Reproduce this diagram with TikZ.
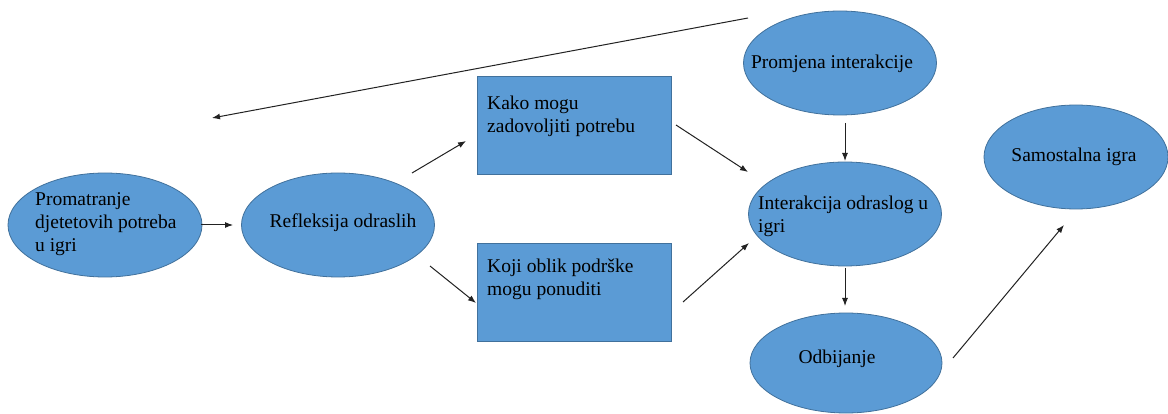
\documentclass[tikz,border=0pt]{standalone}
\usepackage{fontspec}
\setmainfont{Liberation Serif}
\usetikzlibrary{arrows.meta,shapes.geometric}
\definecolor{fillblue}{HTML}{5B9BD5}
\definecolor{edgeblue}{HTML}{41719C}
\definecolor{linegray}{HTML}{222222}
\begin{document}
\begin{tikzpicture}[x=1pt,y=-1pt,
  oval/.style={ellipse,draw=edgeblue,fill=fillblue,line width=0.8pt,inner sep=0pt,
    minimum width=#1,minimum height=104pt},
  oval/.default=194pt,
  boxnode/.style={rectangle,draw=edgeblue,fill=fillblue,line width=0.8pt,inner sep=0pt,
    minimum width=194pt,minimum height=98pt},
  txt/.style={inner sep=0pt,font=\fontsize{19.5}{23}\selectfont,align=left},
  conn/.style={draw=linegray,line width=1pt,-{Latex[length=8pt,width=6pt]}}]
\useasboundingbox (0,0) rectangle (1168,414);
\fill[white] (0,0) rectangle (1168,414);
% shapes
\node[oval] (e1) at (105,225) {};
\node[oval=193pt] (e2) at (338,225) {};
\node[boxnode] (b1) at (574,125) {};
\node[boxnode] (b2) at (574,292) {};
\node[oval=193pt] (e3) at (840,63) {};
\node[oval=193pt] (e4) at (845,214) {};
\node[oval=192pt,minimum height=100pt] (e5) at (846,363) {};
\node[oval=184pt,minimum height=104pt] (e6) at (1076,157) {};
% texts
\node[txt,anchor=west] (t1) at (35,224) {Promatranje\\djetetovih potreba\\u igri};
\node[txt] (t2) at (343,223) {Refleksija odraslih};
\node[txt,anchor=west] (t3) at (487,116) {Kako mogu\\zadovoljiti potrebu};
\node[txt,anchor=west] (t4) at (487,279) {Koji oblik podrške\\mogu ponuditi};
\node[txt] (t5) at (832,64) {Promjena interakcije};
\node[txt,anchor=west] (t6) at (758,216) {Interakcija odraslog u\\igri};
\node[txt] (t7) at (837,359) {Odbijanje};
\node[txt] (t8) at (1074,157) {Samostalna igra};
% connector end points
\coordinate (a1s) at (201,225); \coordinate (a1e) at (233,225);
\coordinate (a2s) at (412,173); \coordinate (a2e) at (466,141);
\coordinate (a3s) at (430,266); \coordinate (a3e) at (476,303);
\coordinate (a4s) at (676,125); \coordinate (a4e) at (748,172);
\coordinate (a5s) at (683,302); \coordinate (a5e) at (749,243);
\coordinate (a6s) at (845,123); \coordinate (a6e) at (845,161);
\coordinate (a7s) at (845,268); \coordinate (a7e) at (845,306);
\coordinate (a8s) at (953,358); \coordinate (a8e) at (1064,225);
\coordinate (a9s) at (748,18);  \coordinate (a9e) at (212,118);
\draw[conn] (a1s) -- (a1e);
\draw[conn] (a2s) -- (a2e);
\draw[conn] (a3s) -- (a3e);
\draw[conn] (a4s) -- (a4e);
\draw[conn] (a5s) -- (a5e);
\draw[conn] (a6s) -- (a6e);
\draw[conn] (a7s) -- (a7e);
\draw[conn] (a8s) -- (a8e);
\draw[conn] (a9s) -- (a9e);
\end{tikzpicture}
\end{document}
